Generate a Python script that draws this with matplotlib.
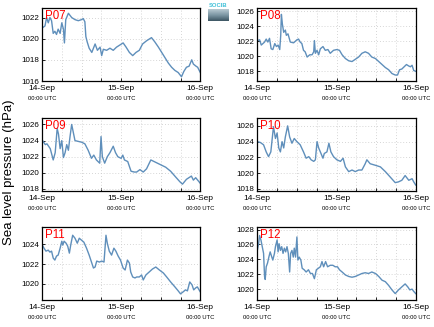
import matplotlib
matplotlib.use("Agg")
import matplotlib.pyplot as plt
import numpy as np
from matplotlib.transforms import blended_transform_factory

plt.rcParams['font.family'] = ['Liberation Sans', 'DejaVu Sans']

# hours since 14-Sep 00:00 UTC, sea level pressure (hPa)
p07_h = [0,0.9,1.4,1.9,2.4,2.9,3.4,3.9,4.4,4.9,5.5,6.0,6.5,6.8,7.2,8.0,9.0,10.0,11.0,12.0,
         12.5,13.0,13.3,13.7,14.3,15.1,16.1,16.8,17.6,18.1,18.6,19.6,20.6,21.6,22.6,23.6,24.6,25.5,26.5,27.5,
         28.5,29.5,30.5,31.7,33.2,34.2,35.3,36.3,37.3,38.3,39.3,40.3,41.3,42.3,43.0,43.8,44.6,45.4,45.9,46.7,47.2,48]
p07_v = [1021.0,1021.2,1022.0,1021.5,1022.0,1021.7,1020.5,1020.7,1020.4,1020.9,1020.5,1021.5,1020.9,1019.6,1021.8,1022.4,1022.0,1021.8,1021.7,1021.8,
         1021.9,1021.6,1020.2,1019.7,1019.1,1018.7,1019.5,1018.9,1019.2,1018.4,1019.0,1018.9,1019.1,1018.9,1019.2,1019.4,1019.6,1019.2,1018.7,1018.4,
         1018.7,1018.9,1019.5,1019.8,1020.1,1019.7,1019.2,1018.7,1018.2,1017.7,1017.3,1017.0,1016.8,1016.4,1016.9,1017.3,1017.4,1018.0,1017.6,1017.4,1017.3,1016.8]

p08_h = [0,0.7,1.2,1.7,2.2,2.7,3.2,3.7,4.2,4.7,5.3,5.8,6.3,6.8,7.1,7.3,7.6,8.0,8.5,8.8,9.3,10.0,11.0,12.0,12.5,13.0,13.5,14.0,14.5,15.1,
         15.9,16.6,17.1,17.3,17.6,18.1,18.6,19.1,19.9,20.6,21.4,22.1,23.1,24.1,24.9,25.7,26.7,27.7,28.7,29.7,30.7,31.7,32.7,33.7,34.7,35.8,36.8,37.8,38.8,39.8,
         40.8,41.8,42.5,43.1,43.8,44.5,45.2,45.9,46.4,46.9,47.4,48]
p08_v = [1022.1,1022.2,1021.5,1021.7,1021.9,1022.3,1021.9,1022.4,1021.0,1020.9,1021.7,1021.3,1021.5,1020.9,1022.8,1025.6,1024.3,1023.2,1023.5,1022.8,1023.0,1021.9,1021.8,1022.2,1022.3,1021.9,1021.7,1020.8,1020.6,1019.9,
         1020.2,1020.2,1020.6,1022.1,1020.4,1020.8,1020.2,1021.0,1021.3,1020.8,1020.9,1020.4,1020.8,1020.9,1020.8,1020.2,1019.7,1019.4,1019.3,1019.6,1019.9,1020.4,1020.6,1020.4,1019.9,1019.7,1019.3,1018.9,1018.5,1018.2,
         1017.7,1017.5,1017.5,1018.2,1018.3,1018.6,1018.9,1018.7,1018.6,1018.8,1018.1,1018.0]

p09_h = [0,1.0,1.5,2.5,3.4,4.0,4.6,5.0,5.5,6.0,6.5,7.0,7.5,8.0,8.5,9.0,9.5,10.0,11.0,12.0,13.0,14.0,15.0,15.7,16.5,17.0,17.5,17.9,18.3,19.0,
         19.8,20.6,21.6,22.3,23.0,24.0,24.5,25.0,26.0,27.0,28.0,28.7,29.7,30.7,31.7,33.0,34.5,36.0,37.5,39.0,40.5,41.8,42.6,43.8,45.3,45.9,46.6,48]
p09_v = [1024.1,1023.5,1023.6,1023.0,1021.6,1022.5,1025.5,1024.8,1023.0,1024.0,1021.9,1022.5,1023.5,1022.8,1024.5,1026.0,1025.0,1024.0,1023.9,1023.8,1023.6,1022.8,1021.8,1022.2,1021.6,1021.4,1021.2,1024.5,1022.0,1021.2,
         1022.0,1022.5,1023.3,1022.5,1022.0,1021.8,1022.2,1021.6,1021.4,1020.2,1020.1,1020.1,1020.4,1020.1,1020.5,1021.6,1021.3,1021.0,1020.7,1020.2,1019.5,1018.9,1018.6,1019.2,1019.6,1019.1,1019.4,1018.7]

p10_h = [0,0.9,1.9,2.7,3.4,4.1,4.9,5.5,6.0,6.5,7.0,7.5,8.0,8.5,9.2,9.8,10.5,11.2,12.0,13.0,14.0,14.8,15.6,16.3,17.1,17.6,18.1,18.6,19.3,19.9,
         20.3,21.1,21.7,22.3,23.1,24.1,25.2,26.0,26.7,27.7,28.7,29.7,30.7,31.7,32.7,33.2,34.2,35.8,37.3,38.8,40.3,41.8,42.8,43.8,44.8,45.9,46.9,47.4,48]
p10_v = [1024.0,1023.9,1023.6,1022.7,1022.1,1022.7,1025.9,1024.4,1025.1,1023.2,1022.7,1024.0,1023.2,1024.6,1026.0,1024.6,1023.8,1024.4,1024.0,1023.6,
         1022.7,1021.9,1022.1,1021.7,1021.5,1021.7,1024.0,1023.2,1022.5,1021.9,1022.5,1022.7,1023.8,1022.7,1022.1,1021.7,1021.5,1021.9,1020.8,1020.2,
         1020.4,1020.2,1020.4,1020.4,1021.2,1021.7,1021.2,1021.0,1020.8,1020.2,1019.5,1018.8,1018.9,1019.1,1019.7,1019.1,1019.3,1018.9,1018.5]

p11_h = [0,0.6,1.2,1.9,2.4,2.9,3.4,3.9,4.4,4.9,5.5,6.0,6.3,6.7,7.3,7.8,8.3,8.7,9.3,10.0,10.7,11.3,12.0,12.7,13.5,14.3,15.1,15.6,16.1,16.6,
         17.4,18.1,18.8,19.4,19.8,20.4,21.1,21.8,22.4,23.1,23.8,24.6,25.2,25.9,26.5,26.9,27.5,28.2,28.7,29.5,30.2,30.7,31.5,32.5,33.5,34.5,35.6,36.8,37.8,39.0,
         40.3,41.3,42.0,42.8,43.5,44.1,44.8,45.5,46.0,46.6,47.1,48]
p11_v = [1024.0,1023.6,1023.3,1023.4,1023.2,1023.3,1022.6,1022.4,1022.8,1022.9,1023.6,1024.3,1023.9,1024.3,1024.1,1023.8,1023.1,1023.9,1024.9,1024.6,
         1024.1,1024.6,1024.4,1024.2,1023.6,1022.9,1022.1,1021.6,1021.7,1022.3,1022.2,1022.3,1022.2,1024.9,1024.1,1023.3,1022.9,1023.6,1023.3,1022.8,
         1022.4,1021.6,1021.4,1022.4,1022.1,1021.2,1020.7,1020.6,1020.7,1020.7,1020.9,1020.4,1020.9,1021.2,1021.5,1021.7,1021.4,1021.1,1020.7,1020.2,
         1019.7,1019.3,1019.0,1019.2,1019.4,1019.3,1020.2,1019.9,1019.4,1019.6,1019.7,1019.2]

p12_h = [0,0.4,0.7,1.1,1.5,1.9,2.2,2.4,2.7,3.1,3.5,3.9,4.4,4.7,5.2,5.5,6.0,6.3,6.6,7.0,7.4,7.8,8.2,8.6,9.0,9.4,9.8,10.1,10.5,10.9,
         11.2,11.6,12.0,12.3,12.7,13.2,13.6,14.2,14.8,15.5,16.1,16.7,17.3,17.9,18.5,19.1,19.6,20.1,20.7,21.3,22.1,22.9,23.6,24.3,24.9,25.7,26.7,27.7,28.7,29.7,
         30.7,31.7,32.7,33.7,34.7,35.8,36.8,37.8,38.8,39.8,40.8,41.8,42.8,43.8,44.8,45.6,46.2,46.9,47.4,48]
p12_v = [1025.2,1026.1,1027.2,1026.6,1025.7,1024.8,1021.7,1021.3,1023.0,1023.5,1024.3,1025.0,1024.3,1023.9,1024.8,1025.7,1026.6,1025.0,1026.1,1025.2,
         1025.7,1024.8,1025.5,1025.0,1025.7,1024.8,1022.3,1024.8,1025.2,1024.3,1025.5,1024.3,1027.0,1023.9,1024.3,1023.9,1022.8,1022.6,1022.3,1022.6,
         1022.1,1022.1,1021.4,1022.6,1022.8,1023.0,1023.7,1023.0,1023.7,1023.0,1023.2,1023.2,1023.0,1023.0,1022.6,1022.3,1021.9,1021.7,1021.6,1021.7,
         1021.9,1022.1,1022.2,1022.1,1022.3,1022.1,1021.7,1021.2,1021.0,1020.5,1019.9,1019.4,1019.9,1020.3,1020.7,1020.3,1019.9,1020.0,1019.7,1019.4]

names = ['P07', 'P08', 'P09', 'P10', 'P11', 'P12']
hours = [p07_h, p08_h, p09_h, p10_h, p11_h, p12_h]
values = [p07_v, p08_v, p09_v, p10_v, p11_v, p12_v]
ylims = [(1016.0, 1022.9), (1016.7, 1026.45), (1017.75, 1026.8),
         (1017.74, 1027.0), (1018.35, 1025.7), (1018.5, 1028.3)]
yticks = [[1016, 1018, 1020, 1022], [1018, 1020, 1022, 1024, 1026],
          [1018, 1020, 1022, 1024, 1026], [1018, 1020, 1022, 1024, 1026],
          [1020, 1022, 1024], [1020, 1022, 1024, 1026, 1028]]
xtick_hours = [0, 24, 48]
xtick_labels = ['14-Sep', '15-Sep', '16-Sep']
xsub_label = '00:00 UTC'
ylabel = 'Sea level pressure (hPa)'

W, H = 434, 327
fig = plt.figure(figsize=(W / 100, H / 100), dpi=100)

cols = [(42, 200.3), (257.3, 415.7)]
rows = [(8, 81), (118, 191), (227.3, 300.3)]
line_color = '#5f8fbb'

for i in range(6):
    r, c = divmod(i, 2)
    x0, x1 = cols[c]
    y0, y1 = rows[r]
    ax = fig.add_axes([x0 / W, 1 - y1 / H, (x1 - x0) / W, (y1 - y0) / H])
    ax.plot(hours[i], values[i], color=line_color, lw=1.0)
    ax.set_xlim(0, 48)
    ax.set_ylim(*ylims[i])
    ax.set_yticks(yticks[i])
    ax.set_yticklabels([str(t) for t in yticks[i]], fontsize=5.8)
    ax.set_xticks(xtick_hours)
    ax.set_xticklabels(xtick_labels, fontsize=6)
    ax.set_xticks(np.arange(6, 48, 6), minor=True)
    ax.grid(True, which='both', axis='x', color='#c8c8c8', ls=(0, (1, 2.5)), lw=0.6)
    ax.grid(True, which='major', axis='y', color='#c8c8c8', ls=(0, (1, 2.5)), lw=0.6)
    ax.tick_params(axis='both', which='both', direction='in', length=2, width=0.6, pad=2)
    ax.tick_params(axis='x', which='major', pad=3)
    for s in ax.spines.values():
        s.set_linewidth(0.9)
    tr = blended_transform_factory(ax.transData, ax.transAxes)
    for xh in xtick_hours:
        ax.text(xh, -0.24, xsub_label, transform=tr, ha='center', va='center', fontsize=4.2)
    ax.text(0.02, 0.97, names[i], transform=ax.transAxes, ha='left', va='top',
            color='red', fontsize=8.3)

fig.text(9 / W, 1 - 172 / H, ylabel, rotation=90, ha='center', va='center', fontsize=9.5)

# logo
lax = fig.add_axes([208 / W, 1 - 21 / H, 21 / W, 12 / H])
grad = np.linspace(0, 1, 50).reshape(-1, 1)
lax.imshow(grad, aspect='auto', cmap=matplotlib.colors.LinearSegmentedColormap.from_list(
    'logo', ['#b8cad2', '#7d97a4', '#3d5663']), extent=(0, 1, 0, 1))
lax.set_axis_off()
fig.text(218.5 / W, 1 - 5.5 / H, 'SOCIB', ha='center', va='center', fontsize=4.2,
         color='#3fc0d8', fontweight='bold')

fig.savefig('out.png', dpi=100)
